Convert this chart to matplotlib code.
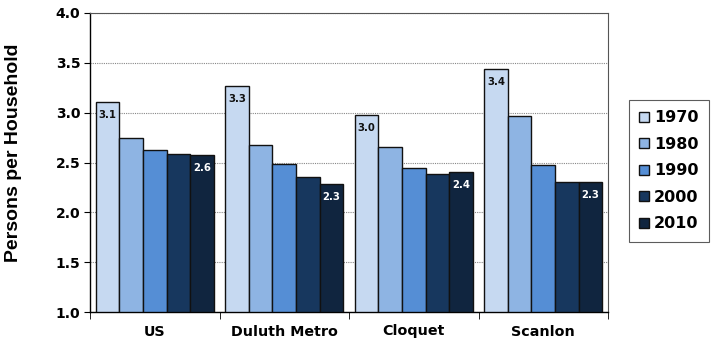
import matplotlib
matplotlib.use("Agg")
import matplotlib.pyplot as plt
import numpy as np

plt.rcParams["font.family"] = ["DejaVu Sans"]

categories = ["US", "Duluth Metro", "Cloquet", "Scanlon"]
years = ["1970", "1980", "1990", "2000", "2010"]
v1970 = [3.11, 3.27, 2.98, 3.44]
v1980 = [2.75, 2.68, 2.66, 2.97]
v1990 = [2.63, 2.48, 2.44, 2.47]
v2000 = [2.59, 2.35, 2.38, 2.30]
v2010 = [2.58, 2.28, 2.40, 2.30]
series = [v1970, v1980, v1990, v2000, v2010]
colors = ["#C6D9F1", "#8EB4E3", "#558ED5", "#17375E", "#10253F"]

fig = plt.figure(figsize=(7.18, 3.46), dpi=100)
ax = fig.add_axes([90/718, 34/346, 518/718, 299/346])

n = len(categories)
x = np.arange(n)
w = 0.182
for i, (vals, c) in enumerate(zip(series, colors)):
    pos = x + (i - 2) * w
    ax.bar(pos, np.array(vals) - 1.0, bottom=1.0, width=w, color=c,
           edgecolor="#111111", linewidth=1.0, label=years[i], zorder=3)
    if i in (0, 4):
        tc = "#111111" if i == 0 else "white"
        for p, v in zip(pos, vals):
            ax.text(p, v - 0.08, f"{v:.1f}", ha="center", va="top",
                    fontsize=7.3, fontweight="bold", color=tc, zorder=4)

ax.set_xlim(-0.5, n - 0.5)
ax.set_ylim(1.0, 4.0)
yt = np.arange(1.0, 4.01, 0.5)
ax.set_yticks(yt)
ax.set_yticklabels([f"{t:.1f}" for t in yt], fontsize=10, fontweight="bold")
ax.set_xticks(x)
ax.set_xticklabels(categories, fontsize=10.3, fontweight="bold")
ax.tick_params(axis="x", length=0, pad=9)
ax.set_xticks(np.arange(-0.5, n, 1.0), minor=True)
ax.tick_params(axis="x", which="minor", length=5, direction="out", color="black")
ax.tick_params(axis="y", length=4, direction="out", color="black", pad=3)

ax.yaxis.grid(True, linestyle=(0, (1, 1)), color="#888888", linewidth=0.8, zorder=0)
for s in ["top", "right"]:
    ax.spines[s].set_color("#555555")
    ax.spines[s].set_linewidth(0.8)
for s in ["left", "bottom"]:
    ax.spines[s].set_color("black")
    ax.spines[s].set_linewidth(1.0)

ax.set_ylabel("Persons per Household", fontsize=14, fontweight="bold",
              family="Liberation Sans")
ax.yaxis.set_label_coords(-0.131, 0.532)

leg = fig.legend(loc="upper left", bbox_to_anchor=(629/718, 1 - 100/346),
                 borderaxespad=0, frameon=True, fancybox=False, edgecolor="#333333",
                 prop={"weight": "bold", "size": 11.5},
                 handlelength=0.6, handleheight=0.6, handletextpad=0.3,
                 labelspacing=0.72, borderpad=0.65)
leg.get_frame().set_linewidth(0.8)

fig.savefig("out.png", dpi=100)
